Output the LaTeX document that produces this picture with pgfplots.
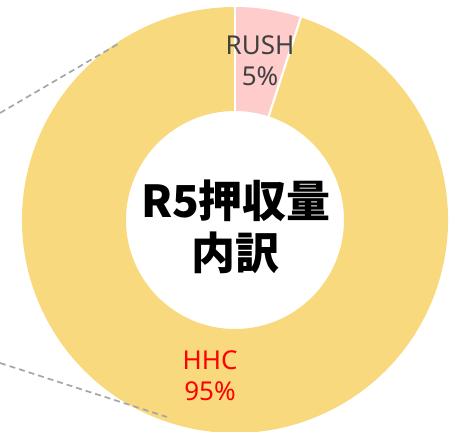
\documentclass[border=0pt]{standalone}
\usepackage{pgfplots}
\pgfplotsset{compat=1.18}
\usepackage{pgfplotstable}
\usepackage{fontspec}
\setmainfont{Noto Sans CJK JP}
\newfontfamily\lblfont{Noto Sans}
\definecolor{hhc}{HTML}{F9D97E}
\definecolor{rush}{HTML}{FFCCCC}
\definecolor{lbl}{HTML}{404040}
\definecolor{dashc}{HTML}{A6A6A6}
\pgfplotstableread{
name share
RUSH 5
HHC 95
}\sharetable
\begin{document}
\begin{tikzpicture}
\useasboundingbox (0,0) rectangle (450bp,432bp);
\clip (0,0) rectangle (450bp,432bp);
\pgfplotstablegetelem{0}{share}\of\sharetable \let\shareA\pgfplotsretval
\pgfplotstablegetelem{1}{share}\of\sharetable \let\shareB\pgfplotsretval
\pgfmathsetmacro\aA{90}
\pgfmathsetmacro\aB{90-3.6*\shareA}
\pgfmathsetmacro\aC{\aB-3.6*\shareB}
\begin{axis}[at={(0,0)}, anchor=south west, scale only axis, width=450bp, height=432bp,
  xmin=0, xmax=450, ymin=0, ymax=432, hide axis, clip=false]
 \fill[rush] (axis cs:235,212) ++(\aA:213bp) arc[start angle=\aA, end angle=\aB, radius=213bp]
   -- ++(\aB+180:104bp) arc[start angle=\aB, end angle=\aA, radius=109bp] -- cycle;
 \fill[hhc] (axis cs:235,212) ++(\aB:213bp) arc[start angle=\aB, end angle=\aC, radius=213bp]
   -- ++(\aC+180:104bp) arc[start angle=\aC, end angle=\aB, radius=109bp] -- cycle;
 \draw[white, line width=2.2bp] (axis cs:235,212) ++(\aA:107bp) -- ++(\aA:108bp);
 \draw[white, line width=2.2bp] (axis cs:235,212) ++(\aB:107bp) -- ++(\aB:108bp);
 \draw[dashc, line width=1.7bp, dash pattern=on 6bp off 4bp] (axis cs:0,319) -- (axis cs:118,388);
 \draw[dashc, line width=1.7bp, dash pattern=on 6bp off 4bp] (axis cs:0,69) -- (axis cs:167,15);
 \node[lbl, align=center, font=\lblfont\fontsize{26bp}{31bp}\selectfont] at (axis cs:260,371) {RUSH\\5\%};
 \node[red, align=center, font=\lblfont\fontsize{26bp}{31bp}\selectfont] at (axis cs:210,56) {HHC\\95\%};
 \node[black, align=center, font=\fontsize{44bp}{52bp}\selectfont\bfseries] at (axis cs:236,205) {R5押収量\\内訳};
\end{axis}
\end{tikzpicture}
\end{document}
